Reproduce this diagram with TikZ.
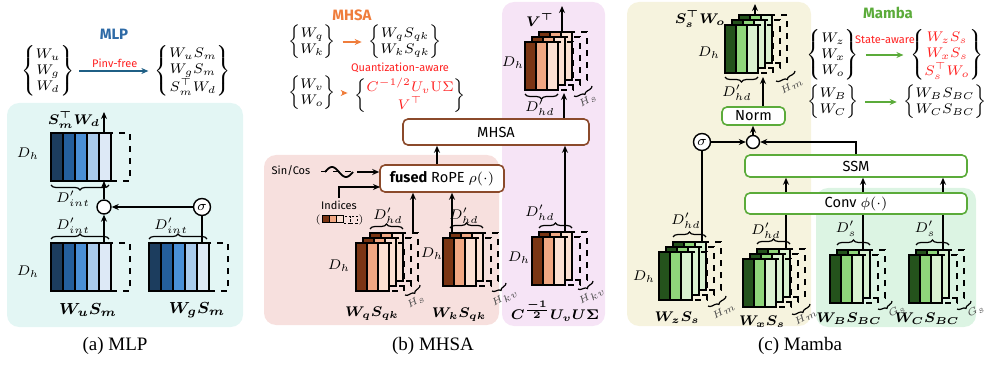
\documentclass[tikz,border=0pt]{standalone}
\usepackage{amsmath,amssymb}
\usepackage{fontspec}
\usepackage{tikz}
\usetikzlibrary{arrows.meta,calc,decorations.pathreplacing}
\newfontfamily\uisans{Fira Sans}
\newfontfamily\capserif{Liberation Serif}
\definecolor{mlpbg}{RGB}{227,246,244}
\definecolor{attbg}{RGB}{247,224,222}
\definecolor{vbg}{RGB}{246,228,246}
\definecolor{ssmbg}{RGB}{246,243,222}
\definecolor{bcbg}{RGB}{220,244,227}
\definecolor{mlpA}{RGB}{28,61,94}
\definecolor{mlpB}{RGB}{36,95,156}
\definecolor{mlpC}{RGB}{74,144,214}
\definecolor{mlpD}{RGB}{169,203,236}
\definecolor{mlpE}{RGB}{221,233,246}
\definecolor{brnA}{RGB}{123,53,20}
\definecolor{brnB}{RGB}{240,167,131}
\definecolor{brnC}{RGB}{251,224,211}
\definecolor{grnA}{RGB}{36,83,28}
\definecolor{grnB}{RGB}{143,214,122}
\definecolor{grnC}{RGB}{217,242,208}
\definecolor{mlpblue}{RGB}{46,106,166}
\definecolor{mlparrow}{RGB}{31,95,133}
\definecolor{attorange}{RGB}{239,125,60}
\definecolor{attbrown}{RGB}{139,74,43}
\definecolor{ssmgreen}{RGB}{91,171,58}
\definecolor{qred}{RGB}{255,32,32}
\tikzset{
  opbox/.style={draw, rounded corners=2.5pt, fill=white, line width=0.8pt, inner sep=0pt, font=\uisans\fontsize{7.3}{8}\selectfont},
  gate/.style={draw, circle, inner sep=0pt, fill=white, line width=0.7pt},
  dotgate/.style={path picture={\fill (path picture bounding box.center) circle (0.6pt);}},
  wmat/.style={font=\scriptsize, inner sep=0pt},
  note/.style={font=\uisans\fontsize{5.5}{6.5}\selectfont, inner sep=1pt},
  dimlbl/.style={font=\scriptsize},
  wlbl/.style={font=\scriptsize},
  bracetop/.style={decorate, decoration={brace, amplitude=2.5pt}},
  bracebot/.style={decorate, decoration={brace, mirror, amplitude=2.5pt}},
  depth/.style={decorate, decoration={brace, mirror, amplitude=2pt}},
  hlbl/.style={font=\tiny, inner sep=0pt, text=black!70, rotate=30},
  panel/.style={rounded corners=6pt},
  title/.style={font=\uisans\bfseries\fontsize{7.5}{9}\selectfont},
  caption/.style={font=\capserif\fontsize{9.5}{11}\selectfont},
}
% stacked heads: front corner x, y, layers, palette
\newcommand{\headstack}[4]{%
  \foreach \l in {#3,...,1}{
    \begin{scope}[shift={({(\l-1)*7},{-(\l-1)*5})}]
      \draw[dashed] (#1,#2) rectangle ++(48,48);
      \foreach \c [count=\i from 0] in {#4A,#4B,#4C}
        \draw[fill=\c] ({#1+\i*11},#2) rectangle ++(11,48);
    \end{scope}
  }
}
% single MLP block: corner x, y
\newcommand{\mlpblock}[2]{%
  \draw[dashed] (#1,#2) rectangle ++(79,48);
  \foreach \c [count=\i from 0] in {mlpA,mlpB,mlpC,mlpD,mlpE}
    \draw[fill=\c] ({#1+\i*12},#2) rectangle ++(12,48);
}
\begin{document}
\begin{tikzpicture}[x=0.5pt, y=-0.5pt, line width=0.6pt, >={Stealth[length=3.5pt,width=3pt]}]
  \useasboundingbox (0,0) rectangle (997,369);
  % panels
  \fill[mlpbg, panel] (7,103) rectangle (243,327);
  \fill[attbg, panel] (264,155) rectangle (499,325);
  \fill[vbg, panel] (502,2) rectangle (605,326);
  \fill[ssmbg, panel] (627,2) rectangle (811,326);
  \fill[bcbg, panel] (816,188) rectangle (976,327);

  % (a) MLP
  \node[title, text=mlpblue] (mlptitle) at (114,34) {MLP};
  \node[wmat] (mlpin) at (48,71) {$\left\{\begin{matrix}W_u\\W_g\\W_d\end{matrix}\right\}$};
  \node[wmat] (mlpout) at (193,71) {$\left\{\begin{matrix}W_uS_m\\W_gS_m\\S_m^{\top}W_d\end{matrix}\right\}$};
  \draw[->, mlparrow, line width=1pt, shorten <=2pt, shorten >=3pt] (mlpin) -- (mlpout) node[midway, above, note, text=qred] (pinv) {Pinv-free};
  \mlpblock{51}{133}
  \mlpblock{51}{243}
  \mlpblock{149}{243}
  \node[wlbl] (wdlbl) at (74,120) {$\boldsymbol{S_m^{\top}W_d}$};
  \node[font=\footnotesize] (wulbl) at (88,310) {$\boldsymbol{W_uS_m}$};
  \node[font=\footnotesize] (wglbl) at (197,310) {$\boldsymbol{W_gS_m}$};
  \node[dimlbl] (dh1) at (28,154) {$D_h$};
  \node[dimlbl] (dh2) at (28,272) {$D_h$};
  \draw[bracebot] (51,185) -- (109,185);
  \draw[bracetop] (51,239) -- (109,239);
  \draw[bracetop] (149,239) -- (207,239);
  \node[dimlbl] (dint1) at (73,199) {$D'_{int}$};
  \node[dimlbl] (dint2) at (73,226) {$D'_{int}$};
  \node[dimlbl] (dint3) at (171,226) {$D'_{int}$};
  \node[gate, dotgate, minimum size=7pt] (mlpdot) at (104,207) {};
  \node[gate, minimum size=8.5pt, font=\scriptsize] (mlpsig) at (202,207) {$\sigma$};
  \coordinate (wdin) at (104,181);
  \coordinate (wdtop) at (104,133);
  \coordinate (wdout) at (104,112);
  \coordinate (wutop) at (104,243);
  \coordinate (wgtop) at (202,243);
  \draw[->] (wutop) -- (mlpdot);
  \draw[->] (mlpdot) -- (wdin);
  \draw[->] (wdtop) -- (wdout);
  \draw[->] (mlpsig) -- (mlpdot);
  \draw (wgtop) -- (mlpsig);
  \node[caption] (capa) at (115,346) {(a) MLP};

  % (b) MHSA
  \node[title, text=attorange] (atttitle) at (352,15) {MHSA};
  \node[wmat] (qkin) at (312,42) {$\left\{\begin{matrix}W_q\\W_k\end{matrix}\right\}$};
  \node[wmat] (qkout) at (405,42) {$\left\{\begin{matrix}W_qS_{qk}\\W_kS_{qk}\end{matrix}\right\}$};
  \draw[->, attorange, line width=1pt, shorten <=3pt, shorten >=3pt] (qkin) -- (qkout);
  \node[wmat] (voin) at (312,93) {$\left\{\begin{matrix}W_v\\W_o\end{matrix}\right\}$};
  \node[wmat] (voout) at (410,96) {$\left\{\begin{matrix}\color{qred}C^{-1/2}U_v\mathrm{U}\Sigma\\\color{qred}V^{\top}\end{matrix}\right\}$};
  \draw[->, attorange, line width=1pt, shorten <=3pt, shorten >=3pt] (voin) -- (voin -| voout.west);
  \node[note, text=qred] (qaware) at (400,68) {Quantization-aware};
  \node[opbox, draw=attbrown, minimum width=93pt, minimum height=13pt] (mhsa) at (496,132) {MHSA};
  \node[opbox, draw=attbrown, minimum width=62pt, minimum height=13.5pt] (rope) at (442,178.5) {\textbf{fused} RoPE $\rho(\cdot)$};
  \headstack{356}{243}{3}{brn}
  \headstack{443}{238}{2}{brn}
  \headstack{525}{42}{3}{brn}
  \headstack{532}{237}{2}{brn}
  \coordinate (wqtop) at (413,233);
  \coordinate (wktop) at (452,233);
  \coordinate (ropeout) at (437,160);
  \coordinate (cutop) at (565,232);
  \coordinate (vbot) at (564,93);
  \coordinate (vtop) at (562,32);
  \coordinate (vout) at (562,6);
  \draw[->] (wqtop) -- (rope.south -| wqtop);
  \draw[->] (wktop) -- (rope.south -| wktop);
  \draw[->] (rope.north -| ropeout) -- (mhsa.south -| ropeout);
  \draw[->] (cutop) -- (mhsa.south -| cutop);
  \draw[->] (mhsa.north -| vbot) -- (vbot);
  \draw[->] (vtop) -- (vout);
  \node[note] (sincos) at (291,171) {Sin/Cos};
  \coordinate (wavel) at (321,172);
  \coordinate (waver) at (357,172);
  \draw[dashed, line width=0.5pt] (wavel) -- (waver);
  \draw[line width=0.9pt] plot[domain=0:360, samples=40] ({325+\x/360*28},{172-5*sin(\x)});
  \draw[->] (waver) -- (rope.west |- waver);
  \node[note] (idxlbl) at (339,205) {Indices};
  \coordinate (idxin) at (380,187);
  \draw[->] (idxlbl.north) |- (idxin);
  \foreach \c [count=\i from 0] in {brnA,brnB,brnC}
    \draw[fill=\c, line width=0.5pt] ({322+\i*7},216) rectangle ++(7,7);
  \foreach \i in {3,4}
    \draw[dashed, dash pattern=on 1pt off 1pt, line width=0.4pt] ({322+\i*7},216) rectangle ++(7,7);
  \node[font=\tiny, inner sep=0pt] (idxl) at (318,219.5) {(};
  \node[font=\tiny, inner sep=0pt] (idxr) at (361,219.5) {)};
  \draw[bracetop] (370,229) -- (403,229);
  \draw[bracetop] (450,228) -- (483,228);
  \draw[bracebot] (525,94) -- (558,94);
  \draw[bracetop] (539,228) -- (572,228);
  \node[dimlbl] (dhd1) at (388,216) {$D'_{hd}$};
  \node[dimlbl] (dhd2) at (464,216) {$D'_{hd}$};
  \node[dimlbl] (dhd3) at (540,108) {$D'_{hd}$};
  \node[dimlbl] (dhd4) at (540,213) {$D'_{hd}$};
  \draw[depth] (405,295) -- (420,285);
  \draw[depth] (492,291) -- (506,283);
  \draw[depth] (574,96) -- (592,86);
  \draw[depth] (578,289) -- (593,281);
  \node[hlbl] (hs1) at (416,302) {$H_s$};
  \node[hlbl] (hkv1) at (505,298) {$H_{kv}$};
  \node[hlbl] (hs2) at (588,101) {$H_s$};
  \node[hlbl] (hkv2) at (592,296) {$H_{kv}$};
  \node[dimlbl] (dh3) at (339,266) {$D_h$};
  \node[dimlbl] (dh4) at (432,254) {$D_h$};
  \node[dimlbl] (dh5) at (513,63) {$D_h$};
  \node[dimlbl] (dh6) at (519,258) {$D_h$};
  \node[wlbl] (vlbl) at (540,20) {$\boldsymbol{V^{\top}}$};
  \node[wlbl] (wqlbl) at (372,314) {$\boldsymbol{W_qS_{qk}}$};
  \node[wlbl] (wklbl) at (459,315) {$\boldsymbol{W_kS_{qk}}$};
  \node[wlbl] (culbl) at (555,311) {$\boldsymbol{C^{\frac{-1}{2}}U_vU\Sigma}$};
  \node[caption] (capb) at (433,346) {(b) MHSA};

  % (c) Mamba
  \node[title, text=ssmgreen] (ssmtitle) at (888,13) {Mamba};
  \node[wmat] (zxoin) at (833,55) {$\left\{\begin{matrix}W_z\\W_x\\W_o\end{matrix}\right\}$};
  \node[wmat] (zxoout) at (947,55) {$\left\{\begin{matrix}\color{qred}W_zS_s\\\color{qred}W_xS_s\\\color{qred}S_s^{\top}W_o\end{matrix}\right\}$};
  \draw[->, ssmgreen, line width=1pt, shorten <=3pt, shorten >=3pt] (zxoin) -- (zxoout);
  \node[note, text=qred] (saware) at (885,40) {State-aware};
  \node[wmat] (bcin) at (833,102) {$\left\{\begin{matrix}W_B\\W_C\end{matrix}\right\}$};
  \node[wmat] (bcout) at (945,102) {$\left\{\begin{matrix}W_BS_{BC}\\W_CS_{BC}\end{matrix}\right\}$};
  \draw[->, ssmgreen, line width=1pt, shorten <=3pt, shorten >=3pt] (bcin) -- (bcout);
  \node[opbox, draw=ssmgreen, minimum width=31.5pt, minimum height=9pt] (norm) at (753.5,116) {Norm};
  \node[opbox, draw=ssmgreen, minimum width=111pt, minimum height=11pt] (ssm) at (856,166) {SSM};
  \node[opbox, draw=ssmgreen, minimum width=111pt, minimum height=10.5pt] (conv) at (856,203.5) {Conv $\phi(\cdot)$};
  \node[gate, dotgate, minimum size=6.5pt] (ssmdot) at (753,142) {};
  \node[gate, minimum size=8.5pt, font=\scriptsize] (ssmsig) at (702,142) {$\sigma$};
  \headstack{725}{25}{3}{grn}
  \headstack{659}{252}{3}{grn}
  \headstack{743}{259}{3}{grn}
  \headstack{830}{255}{2}{grn}
  \headstack{909}{255}{2}{grn}
  \coordinate (swbot) at (763,77);
  \coordinate (swtop) at (755,16);
  \coordinate (swout) at (755,4);
  \coordinate (wztop) at (702,242);
  \coordinate (wxtop) at (786,249);
  \coordinate (wbtop) at (863,249);
  \coordinate (wctop) at (943,249);
  \draw[->] (ssmsig) -- (ssmdot);
  \draw[->] (ssm.north) |- (ssmdot);
  \draw[->] (ssmdot) -- (ssmdot |- norm.south);
  \draw[->] (norm.north -| swbot) -- (swbot);
  \draw[->] (swtop) -- (swout);
  \draw (wztop) -- (ssmsig);
  \foreach \p in {wxtop,wbtop,wctop}{
    \draw (\p) -- (conv.south -| \p);
    \draw[->] (conv.north -| \p) -- (ssm.south -| \p);
  }
  \draw[bracebot] (725,77) -- (758,77);
  \draw[bracetop] (673,237) -- (706,237);
  \draw[bracetop] (757,244) -- (790,244);
  \draw[bracetop] (837,245) -- (870,245);
  \draw[bracetop] (916,245) -- (949,245);
  \node[dimlbl] (dhd5) at (737,93) {$D'_{hd}$};
  \node[dimlbl] (dhd6) at (686,221) {$D'_{hd}$};
  \node[dimlbl] (dhd7) at (766,231) {$D'_{hd}$};
  \node[dimlbl] (ds1) at (846,229) {$D'_s$};
  \node[dimlbl] (ds2) at (925,229) {$D'_s$};
  \draw[depth] (776,81) -- (795,71);
  \draw[depth] (708,306) -- (726,296);
  \draw[depth] (792,314) -- (810,304);
  \draw[depth] (878,309) -- (892,301);
  \draw[depth] (957,309) -- (971,301);
  \node[hlbl] (hm1) at (792,86) {$H_m$};
  \node[hlbl] (hm2) at (724,311) {$H_m$};
  \node[hlbl] (hm3) at (806,317) {$H_m$};
  \node[hlbl] (gs1) at (897,311) {$G_s$};
  \node[hlbl] (gs2) at (976,311) {$G_s$};
  \node[dimlbl] (dh7) at (709,53) {$D_h$};
  \node[dimlbl] (dh8) at (644,277) {$D_h$};
  \node[wlbl] (swlbl) at (700,19) {$\boldsymbol{S_s^{\top}W_o}$};
  \node[wlbl] (wzlbl) at (677,318) {$\boldsymbol{W_zS_s}$};
  \node[wlbl] (wxlbl) at (762,322) {$\boldsymbol{W_xS_s}$};
  \node[wlbl] (wblbl) at (849,319) {$\boldsymbol{W_BS_{BC}}$};
  \node[wlbl] (wclbl) at (927,319) {$\boldsymbol{W_CS_{BC}}$};
  \node[caption] (capc) at (800,346) {(c) Mamba};
\end{tikzpicture}
\end{document}
